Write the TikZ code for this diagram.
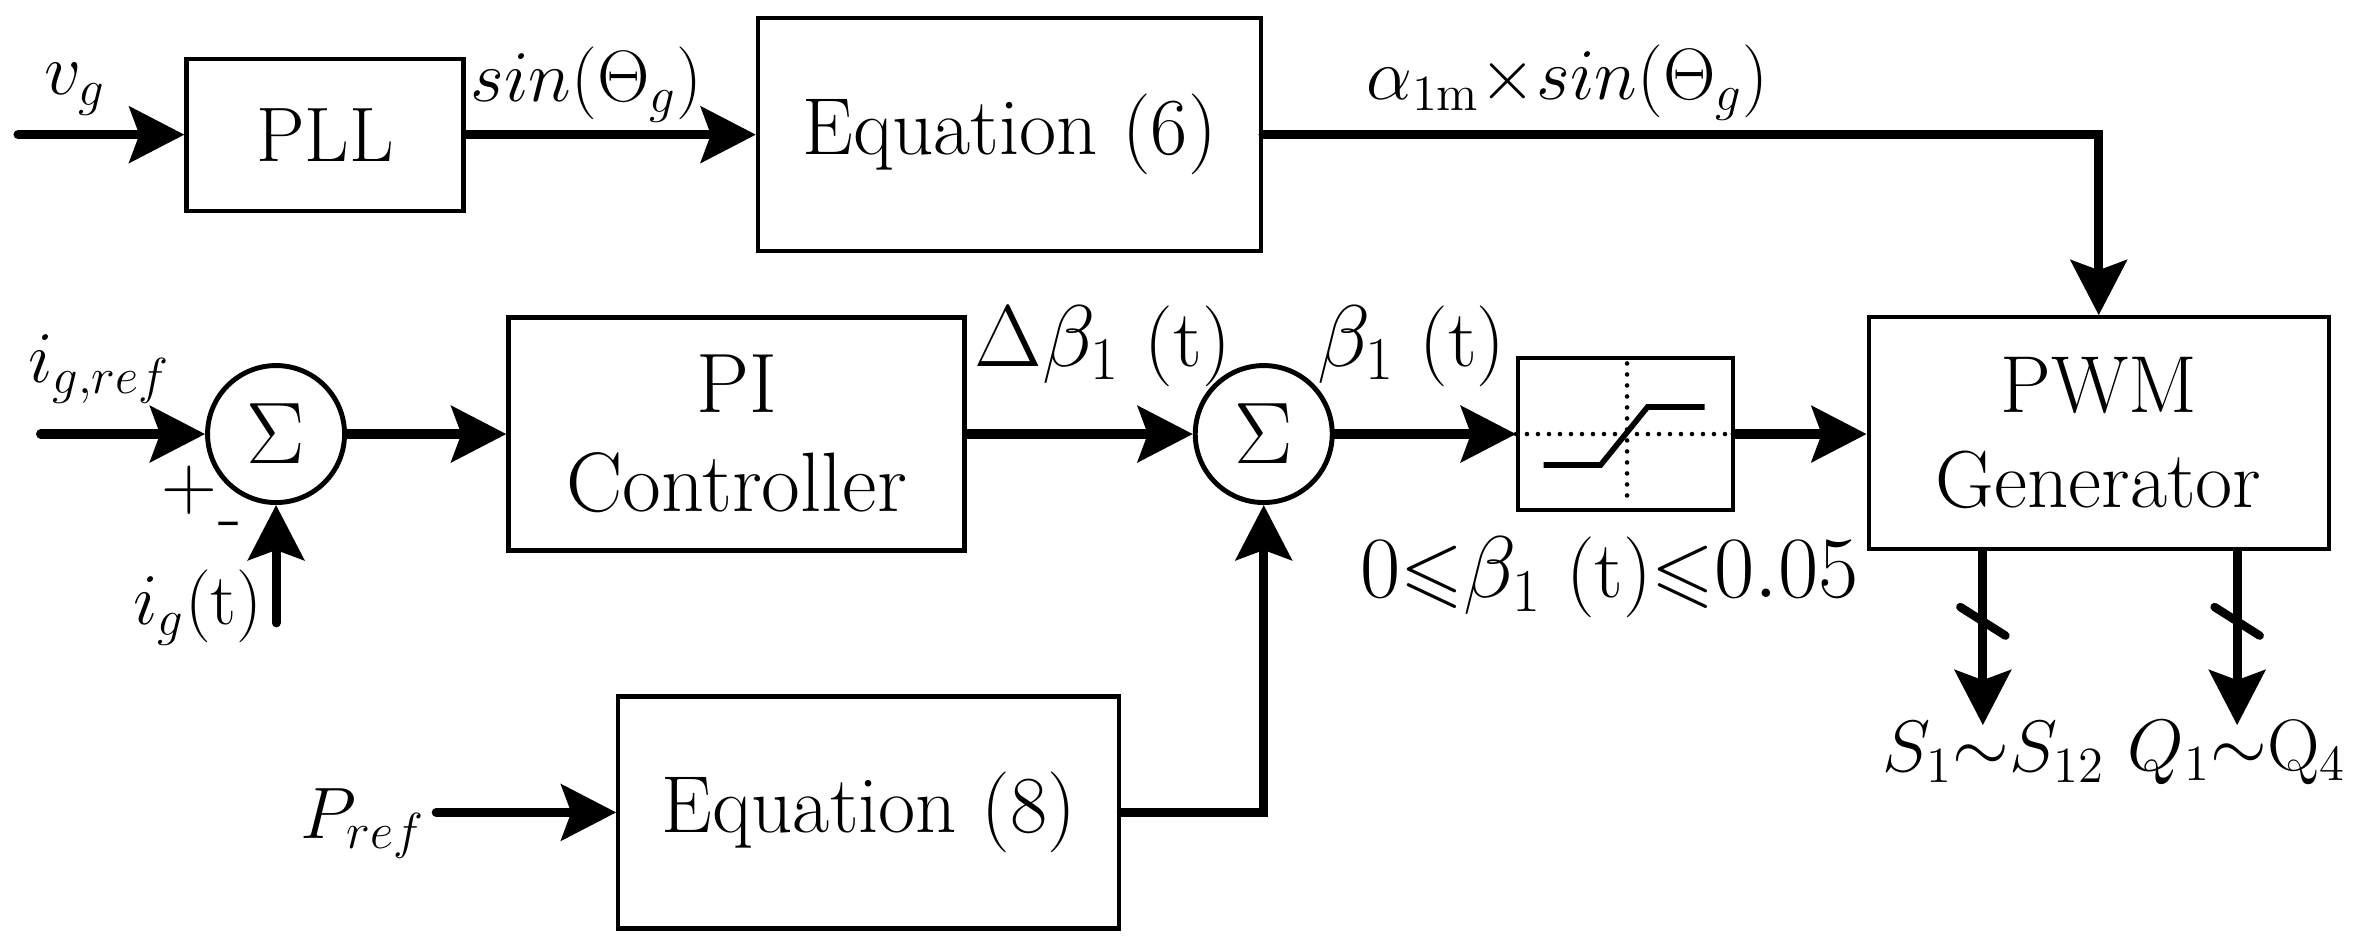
\documentclass[tikz,border=0pt]{standalone}
\usepackage{amsmath,amssymb}
\usetikzlibrary{arrows.meta, positioning, calc}

\begin{document}
\begin{tikzpicture}[
  x=0.15045mm, y=-0.15045mm,
  block/.style={draw, line width=1.2pt, inner sep=0pt, align=center, font=\fontsize{23}{27}\selectfont},
  sumnode/.style={circle, draw, line width=1.4pt, minimum size=13.7mm, inner sep=0pt, font=\fontsize{29}{30}\selectfont},
  sig/.style={line width=2.6pt, line cap=round, -{Stealth[length=5.5mm, width=5.6mm, inset=1mm]}},
  dotline/.style={line width=1.3pt, line cap=round, dash pattern=on 0pt off 1.1mm},
  lbl/.style={inner sep=0pt, font=\fontsize{22}{26}\selectfont}
]
\useasboundingbox (0,0) rectangle (1568,630);

% top row
\node[block, minimum width=27.7mm, minimum height=15.2mm, font=\fontsize{22}{26}\selectfont] (pll) at (216, 89.5) {PLL};
\node[block, minimum width=50.3mm, minimum height=23.3mm] (eq6) at (671, 89.5) {Equation (6)};

% middle row
\node[sumnode] (sum1) at (183.5, 288.5) {$\Sigma$};
\node[block, minimum width=45.6mm, minimum height=23.3mm, font=\fontsize{24}{28}\selectfont] (pi) at (489.5, 288.5) {PI\\Controller};
\node[sumnode] (sum2) at (840, 288.5) {$\Sigma$};
\node[block, minimum width=21.5mm, minimum height=15.2mm] (sat) at (1080.5, 288.5) {};
\node[block, minimum width=46mm, minimum height=23.2mm, font=\fontsize{23}{27}\selectfont] (pwm) at (1395, 288) {PWM\\Generator};

% bottom row
\node[block, minimum width=50.1mm, minimum height=23.2mm] (eq8) at (577.5, 540) {Equation (8)};

% saturation characteristic
\draw[dotline] (sat.west) -- (sat.east);
\draw[dotline] ($(sat.north)+(1,5)$) -- ($(sat.south)+(1,-9)$);
\draw[line width=1.6pt] ($(sat.center)+(-54.5,20.6)$) -- ++(37.9,0) -- ($(sat.center)+(14.6,-18)$) -- ++(37.9,0);

% free ends
\coordinate (vg) at (12, 89.5);
\coordinate (igref) at (27, 288.5);
\coordinate (igt) at (183.5, 414);
\coordinate (pref) at (290, 540);
\coordinate (outs) at (1318, 482);
\coordinate (outq) at (1487, 482);

% connectors
\draw[sig] (vg) -- (pll);
\draw[sig] (pll) -- (eq6);
\draw[sig] (eq6.east) -| (pwm.north);
\draw[sig] (igref) -- (sum1);
\draw[sig] (igt) -- (sum1);
\draw[sig] (sum1) -- (pi);
\draw[sig] (pi) -- (sum2);
\draw[sig] (sum2) -- (sat);
\draw[sig] (sat.east) -- (sat.east -| pwm.west);
\draw[sig] (pref) -- (eq8);
\draw[sig] (eq8.east) -| (sum2.south);
\draw[sig] (outs |- pwm.south) -- (outs);
\draw[sig] (outq |- pwm.south) -- (outq);

% bus marks
\foreach \c in {outs, outq}{
  \draw[line width=2.4pt, line cap=round] ($(\c)+(-15,-78.5)$) -- ($(\c)+(15,-59.5)$);
}

% labels
\node[lbl] (lvg) at (50, 59) {$v_g$};
\node[lbl, font=\fontsize{20}{24}\selectfont] (lsin) at (390, 56) {$sin(\Theta_g)$};
\node[lbl] (lalpha) at (1042, 55) {$\alpha_{1\mathrm{m}}{\times}sin(\Theta_g)$};
\node[lbl, font=\fontsize{21}{24}\selectfont] (ligref) at (66, 245) {$i_{g,ref}$};
\node[lbl, font=\fontsize{22}{24}\selectfont] (lplus) at (126, 326) {+};
\node[lbl, font=\fontsize{22}{24}\selectfont] (lminus) at (153, 353) {-};
\node[lbl, font=\fontsize{21}{24}\selectfont, anchor=east] (ligt) at (175, 404) {$i_g(\mathrm{t})$};
\node[lbl, font=\fontsize{23}{26}\selectfont] (ldbeta) at (733, 230) {$\Delta\beta_1$ (t)};
\node[lbl, font=\fontsize{23}{26}\selectfont] (lbeta) at (938, 230) {$\beta_1$ (t)};
\node[lbl, font=\fontsize{23}{26}\selectfont] (llim) at (1070, 384) {$0{\leqslant}\beta_1$ (t)${\leqslant}0.05$};
\node[lbl, font=\fontsize{21}{24}\selectfont, anchor=base east] (lpref) at (283, 557) {$P_{ref}$};
\node[lbl, font=\fontsize{21}{24}\selectfont] (ls) at (1325, 500) {$S_1{\sim}S_{12}$};
\node[lbl, font=\fontsize{21}{24}\selectfont] (lq) at (1487, 500) {$Q_1{\sim}\mathrm{Q}_4$};

\end{tikzpicture}
\end{document}
